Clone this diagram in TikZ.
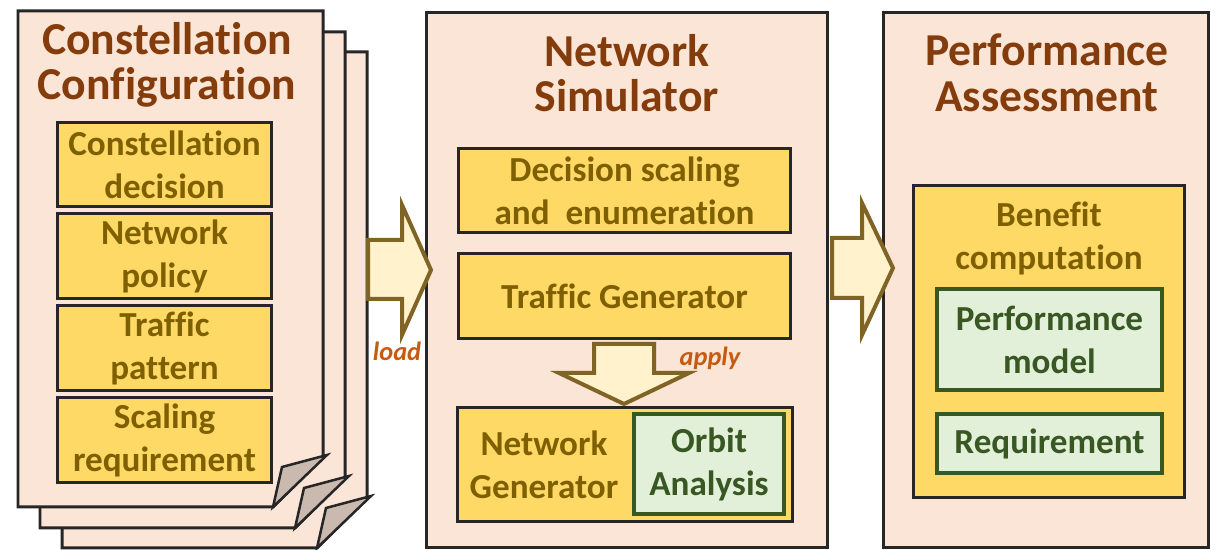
\documentclass[tikz,border=0pt]{standalone}
\usepackage{fontspec}
\setmainfont{Carlito}[Ligatures=NoCommon]
\usepackage{xcolor}
\usepackage{tikz}
\usetikzlibrary{positioning, calc}

\definecolor{panelfill}{HTML}{FBE5D6}
\definecolor{titlebrown}{HTML}{843C0C}
\definecolor{boxyellow}{HTML}{FFD966}
\definecolor{boxtext}{HTML}{7F6000}
\definecolor{greenfill}{HTML}{E2F0D9}
\definecolor{greenline}{HTML}{385723}
\definecolor{arrowfill}{HTML}{FFF2CC}
\definecolor{arrowline}{HTML}{7F6426}
\definecolor{flapgray}{HTML}{C9B9AE}
\definecolor{labelorange}{HTML}{C55A11}

\begin{document}
\begin{tikzpicture}[
        x=0.02cm, y=-0.02cm,
        panel/.style={rectangle, draw=black!85, line width=0.06cm, fill=panelfill, minimum height=10.72cm},
        page/.style={draw=black!85, line width=0.06cm, fill=panelfill},
        flap/.style={draw=black!85, line width=0.05cm, fill=flapgray},
        title/.style={text=titlebrown, font=\fontsize{26}{26}\selectfont\bfseries, align=center},
        itemtext/.style={text=boxtext, font=\fontsize{20}{24.5}\selectfont\bfseries, align=center},
        item/.style={itemtext, rectangle, draw=black!85, line width=0.06cm, fill=boxyellow, inner sep=0pt},
        model/.style={rectangle, draw=greenline, line width=0.08cm, fill=greenfill, text=greenline, font=\fontsize{20}{24.5}\selectfont\bfseries, align=center, inner sep=0pt},
        blockarrow/.style={draw=arrowline, line width=0.08cm, fill=arrowfill},
        tag/.style={text=labelorange, font=\fontsize{15}{15}\selectfont\bfseries\itshape}
    ]
        \useasboundingbox (0,0) rectangle (1215,550);

        % ===== 星座配置(三页叠放) =====
        \foreach \dx/\dy in {44/41, 22/21, 0/0} {
            \begin{scope}[shift={(\dx,\dy)}]
                \draw [page] (18,11) -- (323,11) -- (323,457) -- (273,507) -- (18,507) -- cycle;
                \draw [flap] (282,467) -- (327,455) -- (273,507) -- cycle;
            \end{scope}
        }
        \node (configTitle) [title] at (167,65) {Constellation\\Configuration};
        \node (decision) [item, minimum width=4.3cm, minimum height=1.7cm] at (164.5,164.5) {Constellation\\decision};
        \node (policy) [item, minimum width=4.3cm, minimum height=1.7cm, below=0.08cm of decision] {Network\\policy};
        \node (pattern) [item, minimum width=4.3cm, minimum height=1.7cm, below=0.08cm of policy] {Traffic\\pattern};
        \node (scalingReq) [item, minimum width=4.3cm, minimum height=1.7cm, below=0.08cm of pattern] {Scaling\\requirement};

        % ===== 网络仿真 =====
        \node (simulator) [panel, minimum width=8.04cm] at (627,280) {};
        \node (simTitle) [title] at (627,73) {Network\\Simulator};
        \node (scaling) [item, minimum width=6.66cm, minimum height=1.7cm] at (624.5,190.5) {Decision scaling\\and\ \ enumeration};
        \node (traffic) [item, minimum width=6.66cm, minimum height=1.7cm, below=0.36cm of scaling] {Traffic Generator};
        \node (netGen) [item, minimum width=6.7cm, minimum height=2.28cm, anchor=north] at (625,406) {};
        \node (orbit) [model, minimum width=3cm, minimum height=2cm, anchor=east] at ($(netGen.east)+(-8,0)$) {Orbit\\Analysis};
        \node (netGenLabel) [itemtext] at ($(netGen.west)!0.5!(orbit.west)$) {Network\\Generator};

        % ===== 性能评估 =====
        \node (assessment) [panel, minimum width=6.52cm] at (1046,280) {};
        \node (assessTitle) [title] at (1047,73) {Performance\\Assessment};
        \node (benefit) [item, minimum width=5.44cm, minimum height=6.26cm] at (1049,341.5) {};
        \node (benefitLabel) [itemtext] at (1049,238) {Benefit\\computation};
        \node (perfModel) [model, minimum width=4.5cm, minimum height=2.02cm] at (1049.5,339.5) {Performance\\model};
        \node (requirement) [model, minimum width=4.5cm, minimum height=1.18cm, below=0.4cm of perfModel] {Requirement};

        % ===== 块状箭头 =====
        \draw [blockarrow] (368,240) -- (402,240) -- (402,205) -- (431,270) -- (402,335) -- (402,299) -- (368,299) -- cycle;
        \draw [blockarrow] (832,238) -- (862,238) -- (862,203) -- (893,268) -- (862,335) -- (862,298) -- (832,298) -- cycle;
        \draw [blockarrow] (594,344) -- (654,344) -- (654,373) -- (689,373) -- (624,404) -- (559,373) -- (594,373) -- cycle;
        \node (loadLabel) [tag] at (397,351) {load};
        \node (applyLabel) [tag] at (710,358) {apply};

    \end{tikzpicture}
\end{document}
